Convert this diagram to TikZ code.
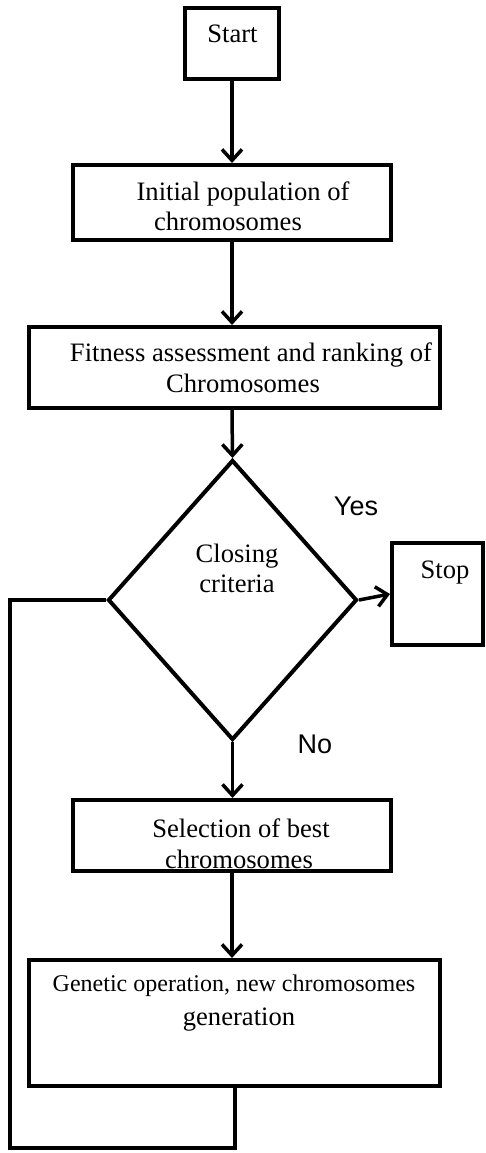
\documentclass[tikz,border=0pt]{standalone}
\usepackage{fontspec}
\setmainfont{Liberation Serif}
\newfontfamily\answerfont{Liberation Sans}
\usetikzlibrary{arrows.meta,shapes.geometric}

\newlength{\du}
\setlength{\du}{1pt}

\tikzset{
  flowbox/.style={draw=linecolor, line width=4\du, rectangle, inner sep=0pt, fill=white},
  decision/.style={draw=linecolor, line width=4\du, diamond, inner sep=0pt, fill=white},
  boxtext/.style={anchor=base, inner sep=0pt, font=\fontsize{26.6}{30}\selectfont},
  answertext/.style={anchor=base, inner sep=0pt, font=\answerfont\fontsize{27}{30}\selectfont},
  flowarrow/.style={draw=linecolor, line width=3.5\du, -{Straight Barb[length=11pt,width=20pt]}},
  loopline/.style={draw=linecolor, line width=4\du}
}

\begin{document}
\begin{tikzpicture}
\pgftransformxscale{1.000000}
\pgftransformyscale{-1.000000}
\definecolor{linecolor}{rgb}{0.000000, 0.000000, 0.000000}
\useasboundingbox (0\du,0\du) rectangle (485\du,1153\du);
% boxes
\node[flowbox, minimum width=94\du, minimum height=71\du] (start) at (232.0\du,43.5\du) {};
\node[flowbox, minimum width=318\du, minimum height=75\du] (initpop) at (232.0\du,202.5\du) {};
\node[flowbox, minimum width=411\du, minimum height=81\du] (fitness) at (234.5\du,367.5\du) {};
\node[decision, minimum width=249\du, minimum height=280\du] (closing) at (232.5\du,600.0\du) {};
\node[flowbox, minimum width=91\du, minimum height=102\du] (stopbox) at (437.5\du,594.0\du) {};
\node[flowbox, minimum width=318\du, minimum height=71\du] (selection) at (232.0\du,835.5\du) {};
\node[flowbox, minimum width=411\du, minimum height=126\du] (genetic) at (234.5\du,1023.0\du) {};
% texts
\node[boxtext] (starttxt) at (232.5\du,43.0\du) {Start};
\node[boxtext] (initpoptxta) at (243.0\du,200.0\du) {Initial population of};
\node[boxtext] (initpoptxtb) at (228.0\du,230.0\du) {chromosomes};
\node[boxtext] (fitnesstxta) at (251.0\du,361.0\du) {Fitness assessment and ranking of};
\node[boxtext] (fitnesstxtb) at (243.0\du,392.0\du) {Chromosomes};
\node[boxtext] (closingtxta) at (237.0\du,562.0\du) {Closing};
\node[boxtext] (closingtxtb) at (237.0\du,592.0\du) {criteria};
\node[boxtext] (stoptxt) at (445.0\du,578.0\du) {Stop};
\node[answertext] (yes) at (356.0\du,515.0\du) {Yes};
\node[answertext] (no) at (315.0\du,753.0\du) {No};
\node[boxtext] (selectiontxta) at (241.0\du,837.0\du) {Selection of best};
\node[boxtext] (selectiontxtb) at (239.0\du,868.0\du) {chromosomes};
\node[boxtext, font=\fontsize{24}{30}\selectfont] (genetictxta) at (234.0\du,991.0\du) {Genetic operation, new chromosomes};
\node[boxtext] (genetictxtb) at (239.0\du,1025.0\du) {generation};
% connectors
\draw[flowarrow] (start.south) -- (start.south |- initpop.north);
\draw[flowarrow] (initpop.south) -- (initpop.south |- fitness.north);
\draw[flowarrow] (initpop.south |- fitness.south) -- (closing.north);
\draw[flowarrow] (closing.east) -- (stopbox.west);
\draw[flowarrow] (closing.south) -- (closing.south |- selection.north);
\draw[flowarrow] (selection.south) -- (selection.south |- genetic.north);
\coordinate (loopcorner) at (10.0\du,1148.0\du);
\draw[loopline] (closing.west) -| (loopcorner) -| (genetic.south);
\end{tikzpicture}
\end{document}
